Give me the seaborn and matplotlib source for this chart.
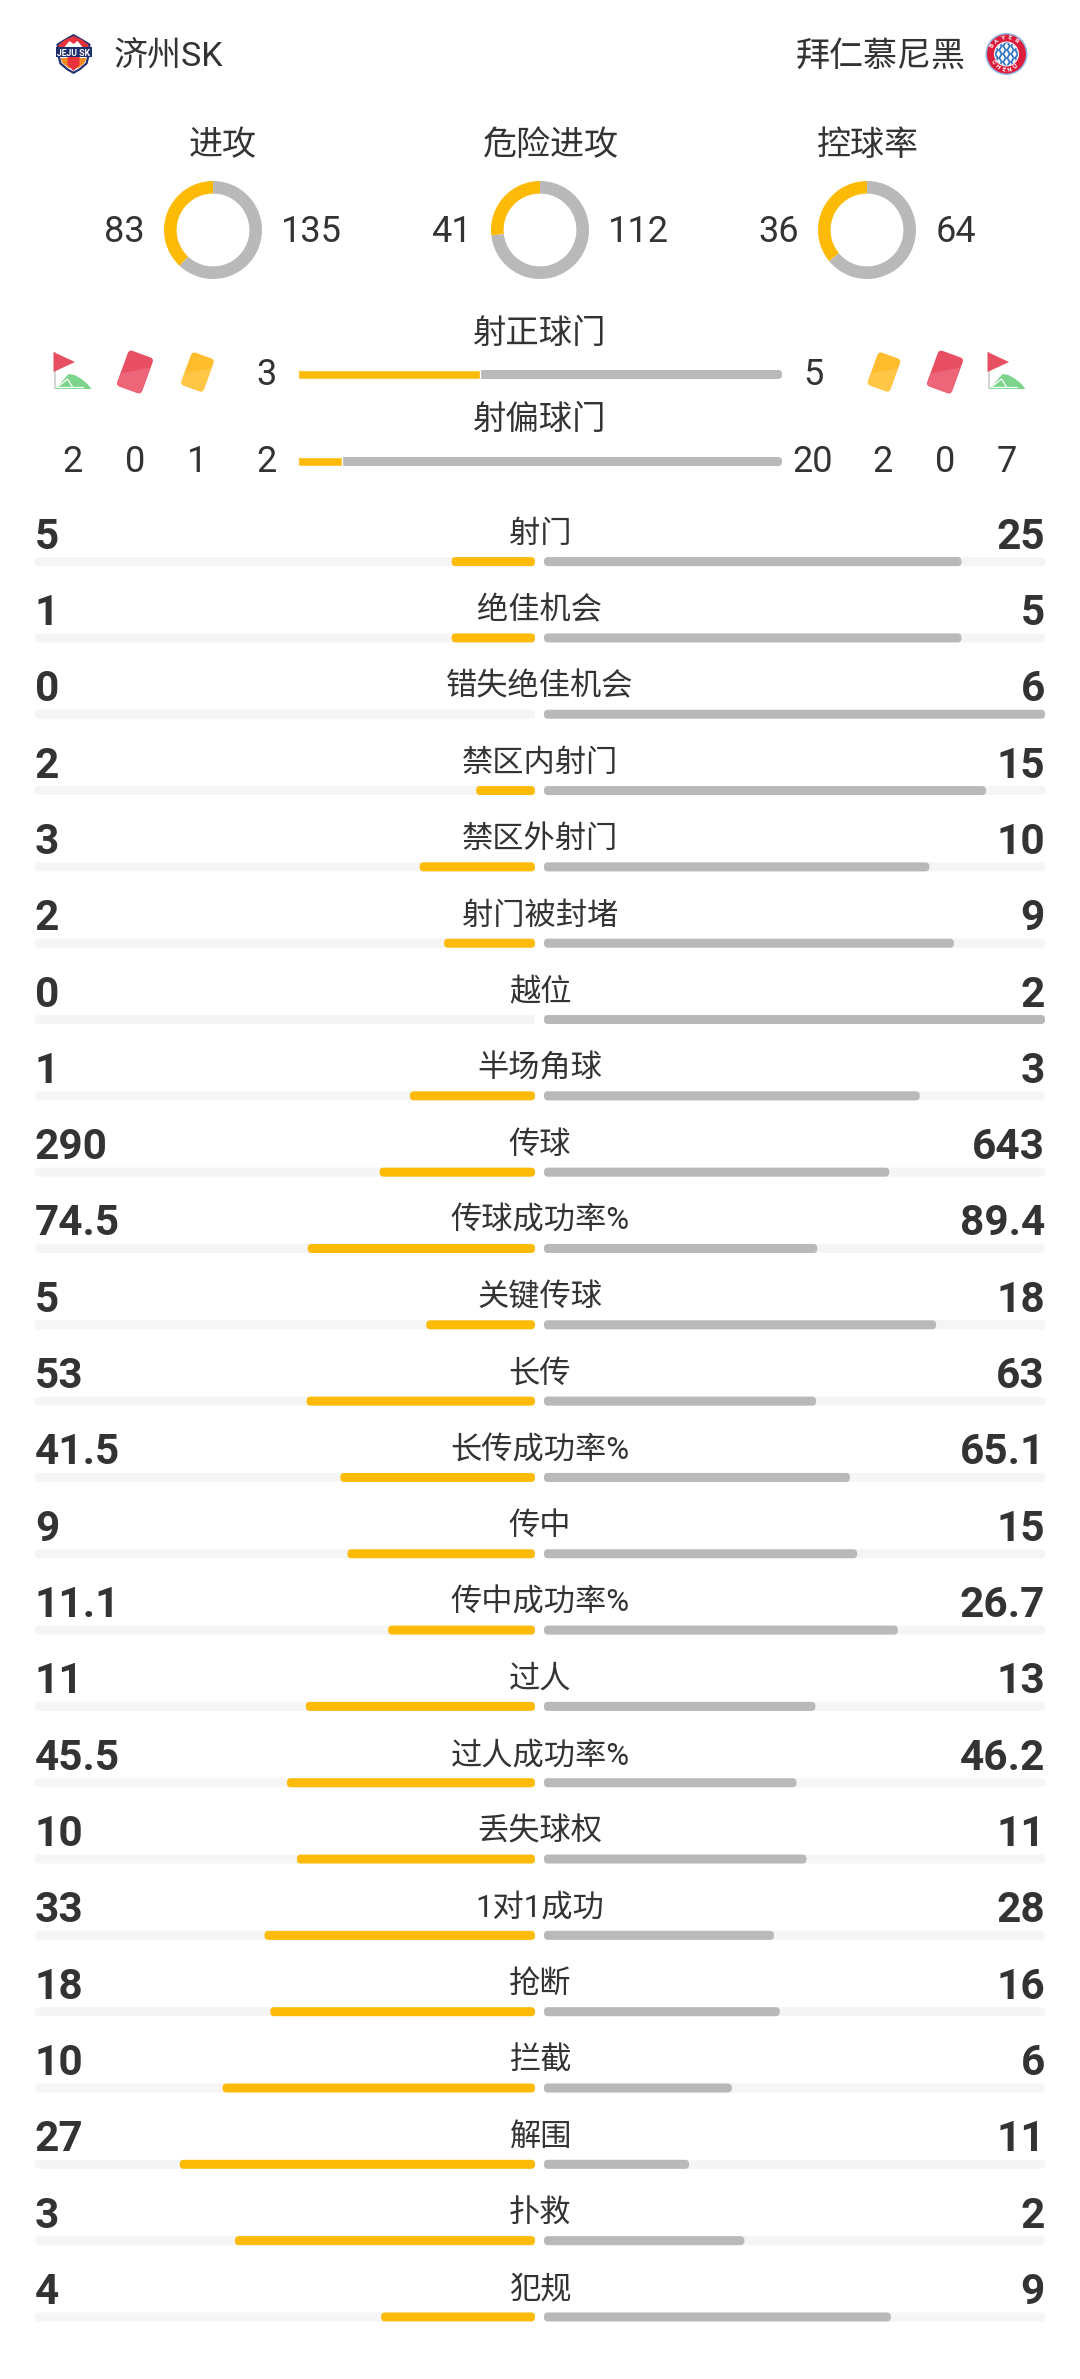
import numpy as np
import pandas as pd
import matplotlib.pyplot as plt
import seaborn as sns
from matplotlib.patches import Circle, FancyBboxPatch, Polygon, Rectangle
from matplotlib.transforms import Affine2D

home_team = '济州SK'
away_team = '拜仁慕尼黑'

donut_labels = ['进攻', '危险进攻', '控球率']
donut_home = [83, 41, 36]
donut_away = [135, 112, 64]

shot_labels = ['射正球门', '射偏球门']
shot_home = [3, 2]
shot_away = [5, 20]

card_home = ['2', '0', '1']
card_away = ['2', '0', '7']

stat_labels = ['射门', '绝佳机会', '错失绝佳机会', '禁区内射门', '禁区外射门', '射门被封堵', '越位',
               '半场角球', '传球', '传球成功率%', '关键传球', '长传', '长传成功率%', '传中',
               '传中成功率%', '过人', '过人成功率%', '丢失球权', '1对1成功', '抢断', '拦截',
               '解围', '扑救', '犯规']
stat_home = ['5', '1', '0', '2', '3', '2', '0', '1', '290', '74.5', '5', '53', '41.5', '9',
             '11.1', '11', '45.5', '10', '33', '18', '10', '27', '3', '4']
stat_away = ['25', '5', '6', '15', '10', '9', '2', '3', '643', '89.4', '18', '63', '65.1', '15',
             '26.7', '13', '46.2', '11', '28', '16', '6', '11', '2', '9']

YELLOW = '#FDBB08'
GREY = '#B9B9B9'
TRACK = '#F5F5F5'
INK = '#333333'
W, H = 1080, 2379

sns.set_theme(style='white')
plt.rcParams['font.family'] = ['Roboto', 'Noto Sans CJK SC', 'DejaVu Sans']


def px_axes(fig, x0, y0, x1, y1):
    """Axes placed by pixel box, y measured from the top of the picture."""
    ax = fig.add_axes([x0 / W, 1 - y1 / H, (x1 - x0) / W, (y1 - y0) / H])
    ax.patch.set_alpha(0)
    return ax


def round_bars(ax, canvas, radius=4, skip=()):
    """Swap the square bars seaborn drew for rounded ones on the pixel canvas."""
    rounded = []
    for i, bar in enumerate(list(ax.patches)):
        if i in skip or bar.get_width() == 0:
            continue
        box = canvas.transData.inverted().transform_bbox(bar.get_window_extent())
        x0, x1 = sorted([box.x0, box.x1])
        y0, y1 = sorted([box.y0, box.y1])
        patch = FancyBboxPatch((x0, y0), x1 - x0, y1 - y0,
                               boxstyle=f'round,pad=0,rounding_size={radius}',
                               fc=bar.get_facecolor(), ec='none', zorder=2)
        canvas.add_patch(patch)
        rounded.append(patch)
        bar.remove()
    return rounded


def bare(ax):
    ax.set_xlabel('')
    ax.set_ylabel('')
    ax.axis('off')


def draw_jeju(canvas, cx, cy):
    outer = [(0, -20), (9, -15), (17, -10), (16, 2), (14, 10), (7, 16), (0, 20), (-7, 16), (-14, 10), (-16, 2), (-17, -10), (-9, -15)]
    inner = [(x * 0.86, y * 0.88) for x, y in outer]
    canvas.add_patch(Polygon([(cx + x, cy + y) for x, y in outer], fc='#1F2F6E', ec='none', zorder=3))
    canvas.add_patch(Polygon([(cx + x, cy + y) for x, y in inner], fc='white', ec='none', zorder=3))
    canvas.add_patch(Polygon([(cx - 15, cy - 9), (cx - 9, cy - 14), (cx, cy - 18), (cx + 9, cy - 14), (cx + 15, cy - 9), (cx + 15, cy - 5), (cx - 15, cy - 5)],
                             fc='#E8323C', ec='none', zorder=4))
    canvas.add_patch(Polygon([(cx - 9, cy - 7), (cx - 4, cy - 13), (cx, cy - 10), (cx + 4, cy - 13), (cx + 9, cy - 7)], fc='white', ec='none', zorder=4))
    canvas.add_patch(Polygon([(cx - 13, cy + 4), (cx + 13, cy + 4), (cx + 11, cy + 9), (cx + 5, cy + 14), (cx - 5, cy + 14), (cx - 11, cy + 9)], fc='#F58A1F', ec='none', zorder=4))
    canvas.add_patch(Polygon([(cx - 6, cy + 3), (cx + 6, cy + 3), (cx + 6, cy + 11), (cx, cy + 17), (cx - 6, cy + 11)], fc='#E8323C', ec='none', zorder=4))
    canvas.add_patch(Rectangle((cx - 18, cy - 7), 36, 10, fc='#1F2F6E', ec='none', zorder=5))
    canvas.text(cx, cy + 1.5, 'JEJU SK', ha='center', va='baseline', fontsize=6.3, fontweight='bold', color='white', zorder=6)


def draw_bayern(canvas, cx, cy):
    canvas.add_patch(Circle((cx, cy), 21, fc='#8FB8E8', ec='none', zorder=3))
    canvas.add_patch(Circle((cx, cy), 19.5, fc='#DC1E3C', ec='none', zorder=3))
    canvas.add_patch(Circle((cx, cy), 12.5, fc='white', ec='none', zorder=4))
    disc = Circle((cx, cy), 11.5, fc='#2E6FC0', ec='none', zorder=4)
    canvas.add_patch(disc)
    for dy in np.arange(-12, 13, 4):
        for dx in np.arange(-12, 13, 4):
            if (dx + dy) % 8 == 0:
                d = Polygon([(cx + dx, cy + dy - 3.6), (cx + dx + 2.2, cy + dy), (cx + dx, cy + dy + 3.6), (cx + dx - 2.2, cy + dy)],
                            fc='white', ec='none', zorder=5)
                canvas.add_patch(d)
                d.set_clip_path(disc)
    for deg, ch in zip(np.arange(-60, 61, 24), 'BAYER'):
        a = np.radians(deg)
        canvas.text(cx + 16 * np.sin(a), cy - 16 * np.cos(a), ch, fontsize=4.5, color='white', fontweight='bold',
                    ha='center', va='center', rotation=-deg, zorder=6)
    for deg, ch in zip(np.arange(-60, 61, 24), 'CHENÜ'):
        a = np.radians(deg)
        canvas.text(cx + 16 * np.sin(a), cy + 16 * np.cos(a), ch, fontsize=4.5, color='white', fontweight='bold',
                    ha='center', va='center', rotation=deg, zorder=6)


def draw_card(canvas, cx, cy, w, h, dark, light):
    tilt = Affine2D().rotate_deg_around(cx, cy, 20) + canvas.transData
    card = FancyBboxPatch((cx - w / 2, cy - h / 2), w, h, boxstyle='round,pad=0,rounding_size=4',
                          fc=dark, ec='none', zorder=3, transform=tilt)
    canvas.add_patch(card)
    shade = Polygon([(cx + w / 2, cy - h / 4), (cx + w / 2, cy + h / 2), (cx - w / 2, cy + h / 2), (cx - w / 2, cy + h / 6)],
                    fc=light, ec='none', zorder=4, transform=tilt)
    canvas.add_patch(shade)
    shade.set_clip_path(card)


def draw_corner(canvas, cx, cy):
    # pole sits at the left edge of the 38 px wide icon
    x0 = cx - 19
    canvas.add_patch(Rectangle((x0, cy - 20), 2, 37, fc='#D5D5D5', ec='none', zorder=3))
    pts = [(x0 + 2, cy + 17), (x0 + 15, cy + 2), (x0 + 21, cy + 3), (x0 + 28, cy + 7), (x0 + 34, cy + 12), (x0 + 38, cy + 17)]
    canvas.add_patch(Polygon(pts, fc='#7DD48B', ec='none', zorder=3))
    canvas.plot([x0 + 4, x0 + 14, x0 + 19], [cy + 15, cy + 7, cy + 15], color='white', lw=0.9, zorder=4)
    canvas.plot([x0 + 4, x0 + 29], [cy + 15, cy + 15], color='white', lw=0.9, zorder=4)
    canvas.add_patch(Polygon([(x0, cy - 20), (x0 + 21.5, cy - 10), (x0, cy)], fc='#E94F63', ec='none', zorder=4))


fig = plt.figure(figsize=(W / 100, H / 100), dpi=100, facecolor='white')
canvas = fig.add_axes([0, 0, 1, 1], zorder=0)
canvas.set_xlim(0, W)
canvas.set_ylim(H, 0)
canvas.axis('off')

# header
canvas.text(113.5, 66, home_team, fontsize=24.5, color=INK, ha='left', va='baseline')
canvas.text(966, 66, away_team, fontsize=24.5, color=INK, ha='right', va='baseline')
draw_jeju(canvas, 73.5, 54)
draw_bayern(canvas, 1006.5, 54)

# donuts
centres = [213, 540, 867]
title_x = [223, 551, 868]
home_x = [124, 451, 779]
away_x = [311, 638.5, 955.5]
for i, label in enumerate(donut_labels):
    canvas.text(title_x[i], 155, label, fontsize=24.5, color=INK, ha='center', va='baseline')
    canvas.text(home_x[i], 241.5, str(donut_home[i]), fontsize=26, color=INK, ha='center', va='baseline')
    canvas.text(away_x[i], 241.5, str(donut_away[i]), fontsize=26, color=INK, ha='center', va='baseline')
    ax = px_axes(fig, centres[i] - 49, 230 - 49, centres[i] + 49, 230 + 49)
    ax.pie([donut_home[i], donut_away[i]], colors=[YELLOW, GREY], startangle=90, radius=1,
           wedgeprops=dict(width=12.6 / 49, linewidth=0))
    ax.set_xlim(-1, 1)
    ax.set_ylim(-1, 1)

# shots on / off target
shots = pd.DataFrame({'label': shot_labels, 'home': shot_home, 'away': shot_away})
shots['share'] = shots['home'] / (shots['home'] + shots['away'])
shots['full'] = 1.0
shot_ax = px_axes(fig, 298, 331, 782, 505)
sns.barplot(data=shots, x='full', y='label', color=GREY, saturation=1, width=9 / 87, ax=shot_ax)
n_full = len(shot_ax.patches)
sns.barplot(data=shots, x='share', y='label', color=YELLOW, saturation=1, width=9 / 87, ax=shot_ax)
shot_ax.set_xlim(0, 1)
bare(shot_ax)
fig.canvas.draw()
fills = list(shot_ax.patches)[n_full:]
tracks = round_bars(shot_ax, canvas, skip=range(n_full, 2 * n_full))
for bar, track in zip(fills, tracks):
    bar.set_clip_path(track)

shot_base = [343, 429]
shot_num = [385, 472]
for i, label in enumerate(shot_labels):
    canvas.text(540, shot_base[i], label, fontsize=24, color=INK, ha='center', va='baseline')
    canvas.text(267, shot_num[i], str(shot_home[i]), fontsize=26, color=INK, ha='center', va='baseline')
    canvas.text(813, shot_num[i], str(shot_away[i]), fontsize=26, color=INK, ha='center', va='baseline')

icon_y = 372
draw_corner(canvas, 72.5, icon_y)
draw_card(canvas, 135, icon_y, 26.5, 38, '#E94F63', '#EC6579')
draw_card(canvas, 197.5, icon_y, 24, 35, '#FFBC2C', '#FFC745')
draw_card(canvas, 884, icon_y, 24, 35, '#FFBC2C', '#FFC745')
draw_card(canvas, 945, icon_y, 26.5, 38, '#E94F63', '#EC6579')
draw_corner(canvas, 1006.5, icon_y)
for x, v in zip([73, 135.5, 197.5], card_home):
    canvas.text(x, 472, v, fontsize=26, color=INK, ha='center', va='baseline')
for x, v in zip([883, 945, 1007], card_away):
    canvas.text(x, 472, v, fontsize=26, color=INK, ha='center', va='baseline')

# stat rows, each side share of the row total
stats = pd.DataFrame({'label': stat_labels,
                      'home': [float(v) for v in stat_home],
                      'away': [float(v) for v in stat_away]})
stats['total'] = stats['home'] + stats['away']
stats['home_share'] = stats['home'] / stats['total']
stats['away_share'] = stats['away'] / stats['total']
stats['full'] = 1.0

ROW = 76.32
FIRST_BAR = 561.6
top = FIRST_BAR - ROW / 2
bottom = FIRST_BAR + ROW * (len(stats) - 0.5)
left_ax = px_axes(fig, 35, top, 535, bottom)
right_ax = px_axes(fig, 544, top, 1045, bottom)
for ax, col, colour, lim in [(left_ax, 'home_share', YELLOW, (1, 0)), (right_ax, 'away_share', GREY, (0, 1))]:
    sns.barplot(data=stats, x='full', y='label', color=TRACK, saturation=1, width=9 / ROW, ax=ax)
    sns.barplot(data=stats, x=col, y='label', color=colour, saturation=1, width=9 / ROW, ax=ax)
    ax.set_xlim(*lim)
    bare(ax)
fig.canvas.draw()
round_bars(left_ax, canvas)
round_bars(right_ax, canvas)

for i, label in enumerate(stat_labels):
    y = FIRST_BAR + i * ROW
    canvas.text(540, y - 18.5, label, fontsize=22.5, color=INK, ha='center', va='baseline')
    canvas.text(35, y - 13, stat_home[i], fontsize=30.5, fontweight='semibold', color=INK, ha='left', va='baseline')
    canvas.text(1045, y - 13, stat_away[i], fontsize=30.5, fontweight='semibold', color=INK, ha='right', va='baseline')

fig.savefig('out.png', dpi=100)
